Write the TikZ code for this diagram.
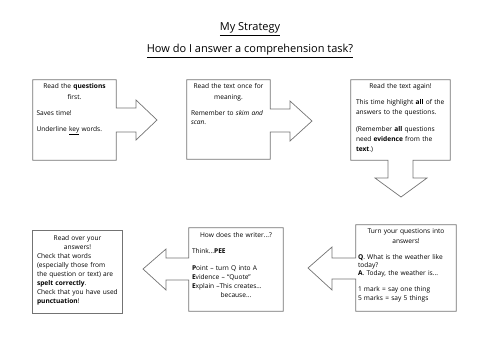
\documentclass[tikz,border=0pt]{standalone}
\usepackage{fontspec}
\setmainfont{Open Sans}
\usetikzlibrary{calc}
\newcommand{\ctr}[1]{\makebox[\linewidth][c]{#1}}

\begin{document}
\begin{tikzpicture}[x=1pt, y=-1pt,
  frame/.style={inner sep=0pt},
  outl/.style={draw=black!55, line width=0.7pt},
  txt/.style={anchor=north, inner sep=0pt, align=left, font=\fontsize{6.6}{9}\selectfont},
  head/.style={font=\fontsize{11}{13}\selectfont}]
\useasboundingbox (0,0) rectangle (500,354);

\node[head] (title) at (250,29) {\underline{My Strategy}};
\node[head] (task) at (250,51) {\underline{How do I answer a comprehension task?}};

\node[frame, minimum width=83, minimum height=80] (b1) at (74.5,120) {};
\node[frame, minimum width=83, minimum height=79] (b2) at (228.5,119.5) {};
\node[frame, minimum width=99, minimum height=80] (b3) at (400.5,120) {};
\node[frame, minimum width=89, minimum height=82] (b4) at (77.5,272) {};
\node[frame, minimum width=94, minimum height=83] (b5) at (236,269.5) {};
\node[frame, minimum width=100, minimum height=86] (b6) at (406,268) {};

\draw[outl] (b1.east |- 0,108) -- (b1.north east) -- (b1.north west) -- (b1.south west)
  -- (b1.south east) -- (b1.east |- 0,132) -- (136,132) -- (136,140) -- (157,120)
  -- (136,100) -- (136,108) -- cycle;
\draw[outl] (b2.east |- 0,109) -- (b2.north east) -- (b2.north west) -- (b2.south west)
  -- (b2.south east) -- (b2.east |- 0,132) -- (290,132) -- (290,141) -- (312,121)
  -- (290,101) -- (290,109) -- cycle;
\draw[outl] (b3.south -| 413,0) -- (b3.south east) -- (b3.north east) -- (b3.north west)
  -- (b3.south west) -- (b3.south -| 388,0) -- (388,178) -- (375,178) -- (401,197)
  -- (427,178) -- (413,178) -- cycle;
\draw[outl] (b4.north west) rectangle (b4.south east);
\draw[outl] (b5.west |- 0,258) -- (b5.north west) -- (b5.north east) -- (b5.south east)
  -- (b5.south west) -- (b5.west |- 0,280) -- (166,280) -- (166,290) -- (143,269)
  -- (166,249) -- (166,258) -- cycle;
\draw[outl] (b6.west |- 0,258) -- (b6.north west) -- (b6.north east) -- (b6.south east)
  -- (b6.south west) -- (b6.west |- 0,279) -- (332,279) -- (332,290) -- (308,268)
  -- (332,247) -- (332,258) -- cycle;

\node[txt, text width=76] (t1) at ($(b1.north)+(0,3)$) {%
  \ctr{Read the \textbf{questions}}\\[2pt]
  \ctr{first.}\\[7pt]
  Saves time!\\[7pt]
  Underline \underline{key} words.};
\node[txt, text width=75] (t2) at ($(b2.north)+(0,3)$) {%
  \ctr{Read the text once for}\\[2pt]
  \ctr{meaning.}\\[7pt]
  Remember to \textit{skim and}\\
  \textit{scan}.};
\node[txt, text width=89] (t3) at ($(b3.north)+(0,3)$) {%
  \ctr{Read the text again!}\\[7pt]
  This time highlight \textbf{all} of the\\[1pt]
  answers to the questions.\\[8pt]
  (Remember \textbf{all} questions\\[1pt]
  need \textbf{evidence} from the\\[1pt]
  \textbf{text}.)};
\node[txt, text width=81] (t4) at ($(b4.north)+(0,4)$) {%
  \ctr{Read over your}\\
  \ctr{answers!}\\
  Check that words\\
  (especially those from\\
  the question or text) are\\
  \textbf{spelt correctly}.\\
  Check that you have used\\
  \textbf{punctuation}!};
\node[txt, text width=88] (t5) at ($(b5.north)+(0,4)$) {%
  \ctr{How does the writer...?}\\[7pt]
  Think...\textbf{PEE}\\[8pt]
  \textbf{P}oint -- turn Q into A\\
  \textbf{E}vidence -- ``Quote''\\
  \textbf{E}xplain --This creates...\\
  \ctr{because...}};
\node[txt, text width=96] (t6) at ($(b6.north)+(0,4)$) {%
  \ctr{Turn your questions into}\\[1pt]
  \ctr{answers!}\\[7pt]
  \textbf{Q}. What is the weather like\\[-1pt]
  today?\\[-1pt]
  \textbf{A}. Today, the weather is...\\[7pt]
  1 mark = say one thing\\
  5 marks = say 5 things};
\end{tikzpicture}
\end{document}
